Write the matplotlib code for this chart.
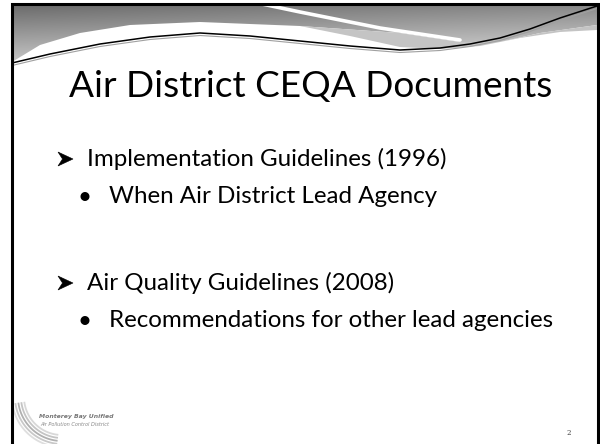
import numpy as np
import matplotlib.pyplot as plt
from matplotlib.path import Path
from matplotlib.patches import PathPatch

# slide text
title = "Air District CEQA Documents"
level1_items = ["Implementation Guidelines (1996)", "Air Quality Guidelines (2008)"]
level2_items = ["When Air District Lead Agency", "Recommendations for other lead agencies"]
logo_lines = ["Monterey Bay Unified", "Air Pollution Control District"]
page_number = "2"

FONT = "Lato"

fig = plt.figure(figsize=(6, 4.44), dpi=100)
ax = fig.add_axes([0, 0, 1, 1])
ax.set_xlim(0, 600)
ax.set_ylim(444, 0)
ax.axis('off')
renderer = fig.canvas.get_renderer()


def fit_size(s, width, **kw):
    # font size that makes the string the given pixel width
    t = ax.text(0, 0, s, fontsize=20, **kw)
    w = t.get_window_extent(renderer).width
    t.remove()
    return 20 * width / w


# --- header band ---
edge_x = [12, 40, 80, 130, 200, 300, 400, 460, 500, 540, 597]
edge_y = [62, 45, 33, 25, 22, 26, 33, 42, 42, 33, 25]
verts = [(12, 4)] + list(zip(edge_x, edge_y)) + [(597, 4), (12, 4)]
clip = PathPatch(Path(verts), facecolor='none', edgecolor='none')
ax.add_patch(clip)
yy, xx = np.mgrid[0:70, 0:600]
grad = np.clip(0.42 + 0.0062 * (yy - 5) + 0.0002 * xx, 0, 0.85)
img = ax.imshow(np.dstack([grad] * 3), extent=[0, 600, 70, 0], origin='upper',
                aspect='auto', zorder=1, interpolation='bilinear')
img.set_clip_path(clip)

# lighter band under the header on the right
band_top = list(zip(edge_x[5:], edge_y[5:]))
band_bot = [(597, 30), (560, 32), (520, 38), (480, 46), (440, 49), (400, 47), (350, 36), (300, 26)]
ax.add_patch(plt.Polygon(band_top + band_bot, closed=True, facecolor='#c4c4c4',
                         edgecolor='none', zorder=1.5))

# white streak
sx = [262, 300, 340, 380, 420, 460]
sy = [4, 12, 20, 28, 34, 40]
ax.plot(sx, sy, color='white', lw=2.6, solid_capstyle='round', zorder=2)

# thin double line
lx = [12, 50, 100, 150, 200, 250, 300, 350, 400, 440, 470, 500, 530, 560, 597]
ly = [63, 54, 44, 37, 33, 36, 41, 46, 50, 48, 44, 38, 29, 18, 6]
ax.plot(lx, np.array(ly) + 2.5, color='#a0a0a0', lw=0.8, zorder=3)
ax.plot(lx, ly, color='black', lw=1.1, zorder=3)

# --- border ---
ax.plot([12, 12, 597.5, 597.5], [446, 4, 4, 446], color='black', lw=2.2,
        solid_joinstyle='miter', zorder=5)

# --- title ---
ts = fit_size(title, 484, family=FONT)
ax.text(69, 97, title, fontsize=ts, family=FONT, va='baseline', color='black')

# --- bullets ---
bs = fit_size(level2_items[1], 446, family=FONT)
l1_y = [166, 290]
l2_y = [203, 327]
for s, y in zip(level1_items, l1_y):
    # filled arrowhead bullet
    head = [(58, y - 14), (73, y - 7), (58, y), (62.5, y - 7)]
    ax.add_patch(plt.Polygon(head, closed=True, facecolor='black',
                             edgecolor='black', lw=0.4, zorder=3))
    ax.text(87, y, s, fontsize=bs, family=FONT, va='baseline', color='black')
for s, y in zip(level2_items, l2_y):
    ax.text(85, y - 6, "\u2022", fontsize=bs, family=FONT, va='center',
            ha='center', color='black')
    ax.text(109, y, s, fontsize=bs, family=FONT, va='baseline', color='black')

# --- logo ---
t = np.linspace(0.15, 1.45, 60)
for r, c in zip([38, 41, 44, 47, 50], ['#d8d8d8', '#c4c4c4', '#b0b0b0', '#c8c8c8', '#dedede']):
    ax.plot(62 - r * np.cos(t), 397 + r * np.sin(t), color=c, lw=1.3, zorder=2)
s1 = fit_size(logo_lines[0], 74, family='DejaVu Sans', style='italic', weight='bold')
ax.text(39, 418, logo_lines[0], fontsize=s1, family='DejaVu Sans', style='italic',
        weight='bold', color='#777777', va='baseline', zorder=3)
s2 = fit_size(logo_lines[1], 70, family='DejaVu Sans', style='italic')
ax.text(40, 426, logo_lines[1], fontsize=s2, family='DejaVu Sans', style='italic',
        color='#888888', va='baseline', zorder=3)

# --- page number ---
ax.text(569, 435, page_number, fontsize=5, family='DejaVu Serif', ha='center',
        va='baseline', color='#444444')

fig.savefig('out.png', dpi=100)
